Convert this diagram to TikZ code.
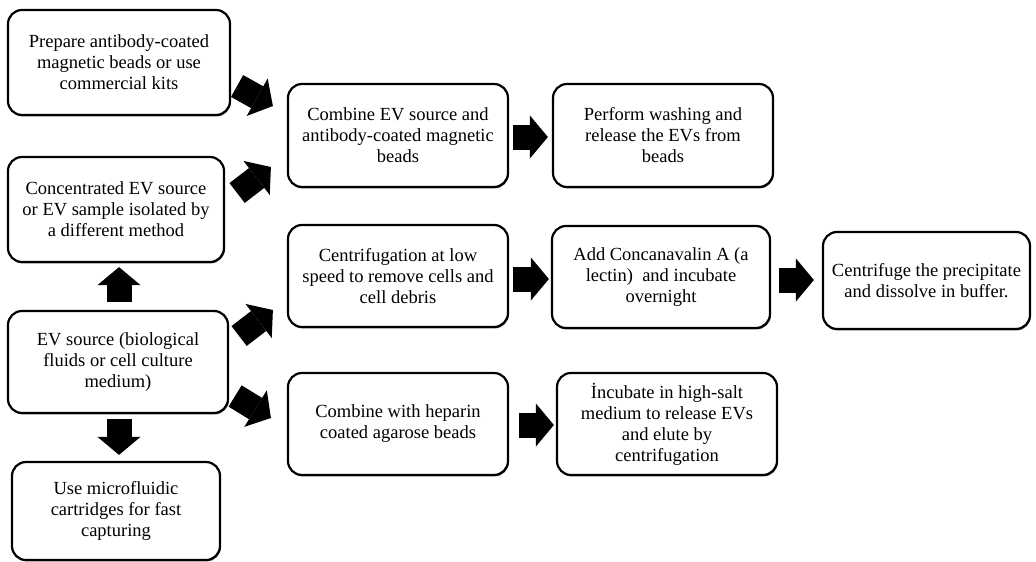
\documentclass[tikz,border=0pt]{standalone}
\usepackage{fontspec}
\setmainfont{Liberation Serif}
\usetikzlibrary{arrows.meta,calc,shadows}
\begin{document}
\begin{tikzpicture}[x=1pt,y=-1pt,
  box/.style={draw=black, line width=2.2pt, rounded corners=14pt, fill=white,
    align=center, inner sep=0pt, font=\fontsize{18.5}{21}\selectfont,
    general shadow={shadow xshift=0.8pt, shadow yshift=-1.4pt, fill=black!55}},
  blk/.style={line width=25pt, draw=black,
    -{Triangle[length=18pt 0 0, width=43pt 0 0, line width=0pt 0 0]}}
]
\useasboundingbox (0,0) rectangle (1036,562);

\node[box, minimum width=222pt, minimum height=105pt] (b1) at (119,62.5)
  {Prepare antibody-coated\\magnetic beads or use\\commercial kits};
\node[box, minimum width=216pt, minimum height=105pt] (b2) at (116,209.5)
  {Concentrated EV source\\or EV sample isolated by\\a different method};
\node[box, minimum width=220pt, minimum height=102pt] (b3) at (118,362)
  {EV source (biological\\fluids or cell culture\\medium)};
\node[box, minimum width=208pt, minimum height=98pt] (b4) at (116,511)
  {Use microfluidic\\cartridges for fast\\capturing};
\node[box, minimum width=220pt, minimum height=103pt] (b5) at (398,135.5)
  {Combine EV source and\\antibody-coated magnetic\\beads};
\node[box, minimum width=220pt, minimum height=103pt] (b6) at (663,135.5)
  {Perform washing and\\release the EVs from\\beads};
\node[box, minimum width=220pt, minimum height=102pt] (b7) at (398,276)
  {Centrifugation at low\\speed to remove cells and\\cell debris};
\node[box, minimum width=218pt, minimum height=102pt] (b8) at (661,277)
  {Add Concanavalin A (a\\lectin)\ \ and incubate\\overnight};
\node[box, minimum width=207pt, minimum height=97pt] (b9) at (926.5,280.5)
  {Centrifuge the precipitate\\and dissolve in buffer.};
\node[box, minimum width=220pt, minimum height=102pt] (b10) at (398,424)
  {Combine with heparin\\coated agarose beads};
\node[box, minimum width=220pt, minimum height=102pt] (b11) at (667,424)
  {İncubate in high-salt\\medium to release EVs\\and elute by\\centrifugation};

% block arrows
\draw[blk] ($(b1.east)+(6,23.5)$) -- ($(b5.west)+(-14,-29.5)$);
\draw[blk] ($(b2.east)+(12,-16.5)$) -- ($(b5.west)+(-16,31.5)$);
\draw[blk] ($(b3.east)+(10,-26)$) -- ($(b7.west)+(-14,34)$);
\draw[blk] ($(b3.east)+(6,34)$) -- ($(b10.west)+(-16,-6)$);
\draw[blk] ($(b3.north)+(1,-8)$) -- ($(b2.south)+(3,4)$);
\draw[blk] ($(b3.south)+(1,5)$) -- ($(b4.north)+(3,-6)$);
\draw[blk] ($(b5.east)+(4,1.5)$) -- ($(b6.west)+(-4,1.5)$);
\draw[blk] ($(b7.east)+(4,3)$) -- ($(b8.west)+(-2,2)$);
\draw[blk] ($(b8.east)+(8,3)$) -- ($(b9.west)+(-8,-0.5)$);
\draw[blk] ($(b10.east)+(10,1)$) -- ($(b11.west)+(-2,1)$);
\end{tikzpicture}
\end{document}
